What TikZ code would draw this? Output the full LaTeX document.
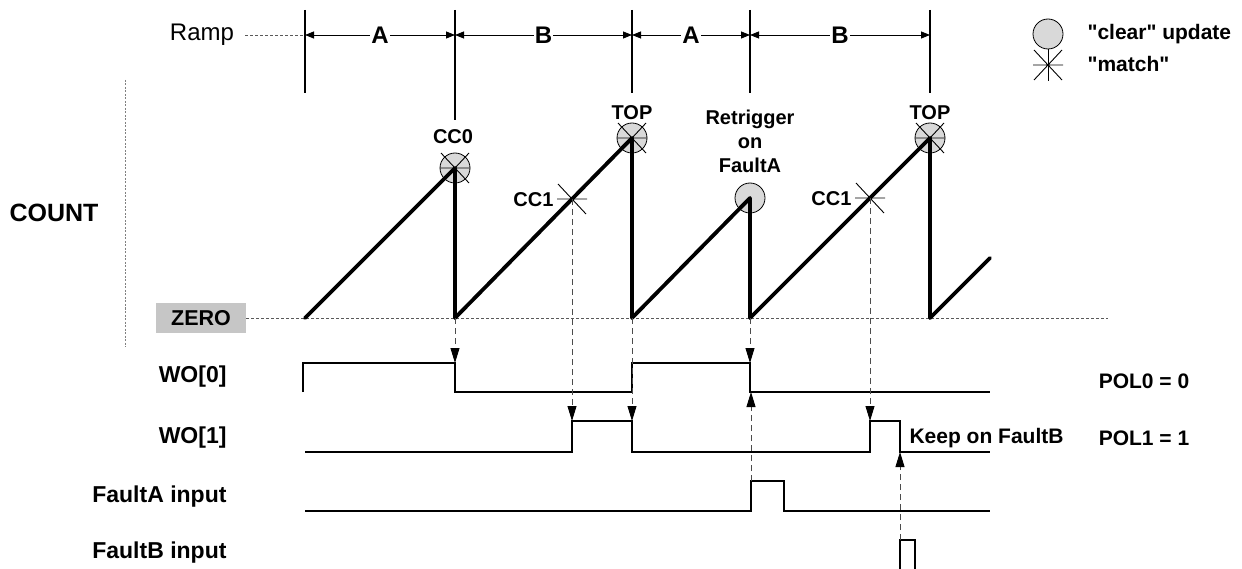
\documentclass[tikz,border=0pt]{standalone}
\usepackage{fontspec}
\setmainfont{Liberation Sans}[Ligatures=TeXOff]
\usetikzlibrary{arrows.meta,positioning,calc}

\newcommand{\matchstar}[1]{%
  \draw[line width=0.9pt] ($(#1)+(-15,0)$) -- ($(#1)+(15,0)$)
    ($(#1)+(-14,-15)$) -- ($(#1)+(14,15)$)
    ($(#1)+(-14,15)$) -- ($(#1)+(14,-15)$);}

\begin{document}
\begin{tikzpicture}[x=1pt, y=-1pt,
    biglabel/.style={font=\fontsize{23}{27}\selectfont\bfseries},
    tinylabel/.style={font=\fontsize{20}{24}\selectfont\bfseries},
    notelabel/.style={font=\fontsize{21}{25}\selectfont\bfseries},
    rampline/.style={line width=3.8pt, line cap=round, line join=round},
    wave/.style={line width=1.6pt},
    marker/.style={line width=1.2pt},
    dimarrow/.style={{Triangle[length=9pt,width=7pt]}-{Triangle[length=9pt,width=7pt]}, line width=0.8pt},
    guide/.style={gray!60!black, line width=0.9pt, dash pattern=on 6pt off 4pt},
    trig/.style={guide, -{Triangle[length=15pt,width=9pt,black]}},
    zeroline/.style={gray!70!black, line width=0.8pt, dash pattern=on 3pt off 2pt},
    clearmark/.style={circle, draw, fill=gray!30, minimum size=30pt, inner sep=0pt, line width=0.8pt}
]
    \useasboundingbox (0,0) rectangle (1242,569);

    % Ramp periods
    \node[font=\fontsize{24}{28}\selectfont] (ramp) at (202,35) {Ramp};
    \draw[zeroline] (245,35) -- (305,35);
    \foreach \x/\b in {305/93, 455/120, 632/93, 750/93, 930/93}
        \draw[marker] (\x,10) -- (\x,\b);
    \draw[dimarrow] (305,35) -- node[fill=white, inner sep=1pt, font=\fontsize{24}{28}\selectfont\bfseries] (perA1) {A} (455,35);
    \draw[dimarrow] (455,35) -- node[fill=white, inner sep=1pt, font=\fontsize{24}{28}\selectfont\bfseries] (perB1) {B} (632,35);
    \draw[dimarrow] (632,35) -- node[fill=white, inner sep=1pt, font=\fontsize{24}{28}\selectfont\bfseries] (perA2) {A} (750,35);
    \draw[dimarrow] (750,35) -- node[fill=white, inner sep=1pt, font=\fontsize{24}{28}\selectfont\bfseries] (perB2) {B} (930,35);

    % Legend
    \node[clearmark] (legclear) at (1048,34) {};
    \coordinate (legmatch) at (1048,65);
    \matchstar{legmatch}
    \draw[line width=0.9pt] (legclear.south) -- ($(legmatch)+(0,16)$);
    \node[notelabel, anchor=west] (legtxt1) at (1084,34) {"clear" update};
    \node[notelabel, anchor=west] (legtxt2) at (1084,64) {"match"};

    % COUNT axis
    \node[font=\fontsize{25}{29}\selectfont\bfseries] (count) at (54,213) {COUNT};
    \draw[gray, line width=1pt, dash pattern=on 2pt off 1.5pt] (125,80) -- (125,347);
    \node[fill=gray!45, minimum width=90pt, minimum height=30pt, inner sep=0pt,
          font=\fontsize{21.5}{24}\selectfont\bfseries] (zero) at (201,318) {ZERO};
    \draw[zeroline] (zero.east) -- (1108,318);

    % Events on the counter
    \coordinate (cc0) at (455,168);
    \coordinate (top1) at (632,138);
    \coordinate (retrig) at (750,198);
    \coordinate (top2) at (930,138);
    \coordinate (cc1a) at (572,199);
    \coordinate (cc1b) at (870,198);
    \foreach \p in {cc0, top1, retrig, top2}
        \node[clearmark] at (\p) {};
    \foreach \p in {cc0, top1, top2, cc1a, cc1b}
        {\matchstar{\p}}

    % Counter ramp
    \draw[rampline] (305,318) -- (cc0) -- (455,318) -- (top1) -- (632,318) -- (retrig)
        -- (750,318) -- (top2) -- (930,318) -- (990,258);

    % Event labels
    \node[tinylabel] (lblcc0) at (453,137) {CC0};
    \node[tinylabel] (lbltop1) at (632,113) {TOP};
    \node[tinylabel] (lbltop2) at (930,113) {TOP};
    \node[tinylabel, align=center] (lblretrig) at (750,141) {Retrigger\\on\\FaultA};
    \node[tinylabel, anchor=east] (lblcc1a) at (557,200) {CC1};
    \node[tinylabel, anchor=east] (lblcc1b) at (855,199) {CC1};

    % Signal names
    \node[biglabel, anchor=east] (wo0) at (230,377) {WO[0]};
    \node[biglabel, anchor=east] (wo1) at (230,438) {WO[1]};
    \node[biglabel, anchor=east] (fa) at (230,497) {FaultA input};
    \node[biglabel, anchor=east] (fb) at (230,553) {FaultB input};

    % Waveforms
    \draw[wave] (303,392) -- (303,363) -- (455,363) -- (455,392) -- (632,392) -- (632,363)
        -- (750,363) -- (750,392) -- (990,392);
    \draw[wave] (305,452) -- (572,452) -- (572,421) -- (632,421) -- (632,452) -- (870,452)
        -- (870,421) -- (900,421) -- (900,452) -- (990,452);
    \draw[wave] (305,511) -- (751,511) -- (751,481) -- (784,481) -- (784,511) -- (990,511);
    \draw[wave] (900,569) -- (900,540) -- (915,540) -- (915,569);

    % Trigger arrows
    \draw[trig] (455,318) -- (455,363);
    \draw[trig] (cc1a) -- (572,421);
    \draw[trig] (632,318) -- (632,421);
    \draw[trig] (750,318) -- (750,363);
    \draw[trig] (751,481) -- (751,392);
    \draw[trig] (cc1b) -- (870,421);
    \draw[trig] (900,540) -- (900,452);

    % Output notes
    \node[notelabel, anchor=west] (keep) at (906,438) {Keep on FaultB};
    \node[notelabel] (pol0) at (1144,381) {POL0 = 0};
    \node[notelabel] (pol1) at (1144,438) {POL1 = 1};
\end{tikzpicture}
\end{document}
